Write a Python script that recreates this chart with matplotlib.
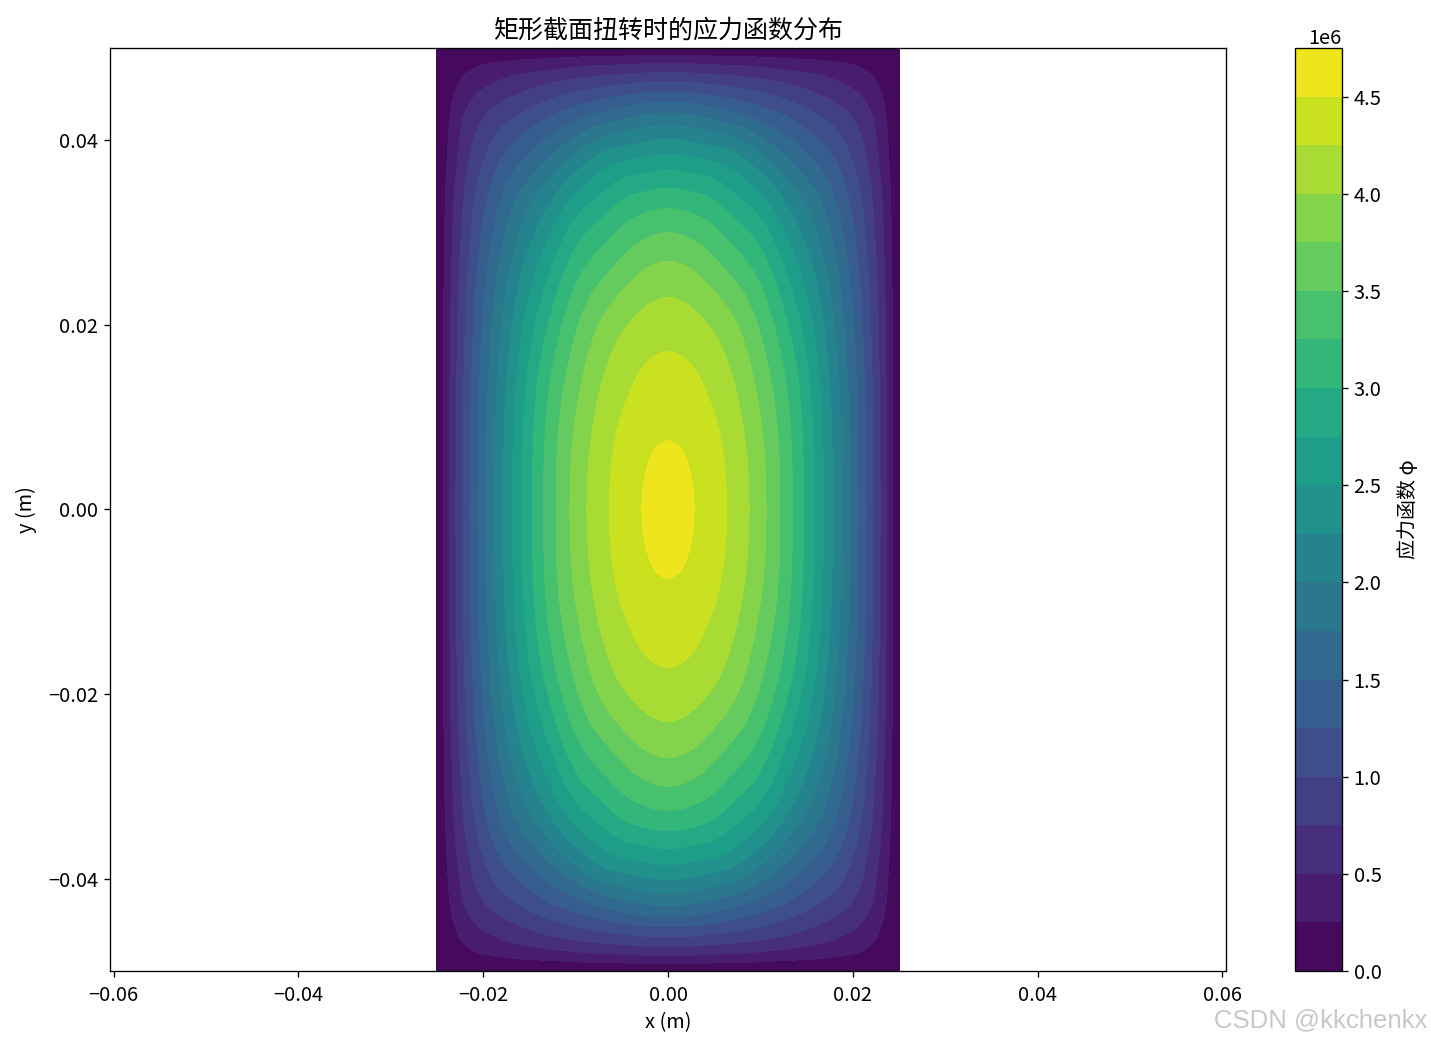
#!/usr/bin/env python3
"""Stress function contour map for a rectangular section under torsion."""

import numpy as np
import matplotlib
matplotlib.use("Agg")
import matplotlib.pyplot as plt
import matplotlib.tri as mtri

plt.rcParams['font.family'] = ['Noto Sans CJK SC', 'DejaVu Sans']
plt.rcParams['font.size'] = 14.4
plt.rcParams['axes.linewidth'] = 0.96
for axis in ('xtick', 'ytick'):
    plt.rcParams[axis + '.major.size'] = 4.2
    plt.rcParams[axis + '.major.width'] = 0.96
    plt.rcParams[axis + '.major.pad'] = 4.2

# one quadrant of the section (mm), mirrored below
x_mm = [0, 2.5, 5, 7.5, 10, 12.5, 15, 17.5, 20, 22, 23.5, 25]
y_mm = [0, 5, 10, 15, 20, 25, 30, 35, 40, 42.5, 45, 47, 48.5, 50]

# stress function, units of 1e6, one row per y_mm
phi_quadrant = [
    [4.72, 4.53, 4.35, 4.14, 3.84, 3.43, 2.93, 2.33, 1.66, 1.07, 0.55, 0],
    [4.57, 4.48, 4.33, 4.12, 3.82, 3.42, 2.92, 2.32, 1.65, 1.06, 0.55, 0],
    [4.45, 4.39, 4.26, 4.05, 3.75, 3.37, 2.88, 2.29, 1.63, 1.05, 0.54, 0],
    [4.32, 4.27, 4.14, 3.93, 3.63, 3.26, 2.79, 2.22, 1.59, 1.02, 0.53, 0],
    [4.14, 4.09, 3.96, 3.75, 3.46, 3.08, 2.63, 2.11, 1.52, 0.98, 0.51, 0],
    [3.88, 3.82, 3.66, 3.46, 3.21, 2.83, 2.42, 1.96, 1.42, 0.92, 0.48, 0],
    [3.50, 3.44, 3.30, 3.10, 2.88, 2.52, 2.16, 1.76, 1.29, 0.84, 0.44, 0],
    [2.98, 2.93, 2.84, 2.65, 2.42, 2.12, 1.82, 1.51, 1.12, 0.74, 0.39, 0],
    [2.27, 2.22, 2.14, 2.02, 1.80, 1.58, 1.36, 1.15, 0.88, 0.60, 0.31, 0],
    [1.83, 1.80, 1.70, 1.58, 1.43, 1.28, 1.11, 0.94, 0.74, 0.52, 0.27, 0],
    [1.30, 1.28, 1.21, 1.13, 1.04, 0.93, 0.81, 0.69, 0.55, 0.38, 0.20, 0],
    [0.83, 0.82, 0.78, 0.74, 0.68, 0.62, 0.55, 0.47, 0.37, 0.26, 0.14, 0],
    [0.45, 0.44, 0.42, 0.40, 0.37, 0.33, 0.30, 0.26, 0.21, 0.14, 0.07, 0],
    [0, 0, 0, 0, 0, 0, 0, 0, 0, 0, 0, 0],
]

levels_1e6 = [0, 0.25, 0.5, 0.75, 1.0, 1.25, 1.5, 1.75, 2.0, 2.25,
              2.5, 2.75, 3.0, 3.25, 3.5, 3.75, 4.0, 4.25, 4.5, 4.75]
xticks = [-0.06, -0.04, -0.02, 0.0, 0.02, 0.04, 0.06]
yticks = [-0.04, -0.02, 0.0, 0.02, 0.04]
cbar_ticks = [0, 0.5e6, 1.0e6, 1.5e6, 2.0e6, 2.5e6, 3.0e6, 3.5e6, 4.0e6, 4.5e6]


def mirrored_triangles(nx, ny):
    """Split grid cells into triangles with diagonals symmetric about the centre."""
    triangles = []
    for j in range(ny - 1):
        for i in range(nx - 1):
            a, b = j * nx + i, j * nx + i + 1
            c, d = (j + 1) * nx + i, (j + 1) * nx + i + 1
            if (i < nx // 2) == (j < ny // 2):
                triangles += [[a, b, d], [a, d, c]]
            else:
                triangles += [[a, b, c], [b, d, c]]
    return triangles


# mirror the quadrant to the whole section
xq = np.array(x_mm) / 1000
yq = np.array(y_mm) / 1000
pq = np.array(phi_quadrant) * 1e6
x = np.concatenate([-xq[:0:-1], xq])
y = np.concatenate([-yq[:0:-1], yq])
phi = np.hstack([pq[:, :0:-1], pq])
phi = np.vstack([phi[:0:-1, :], phi])

levels = np.array(levels_1e6) * 1e6

# let matplotlib round off the contours of the coarse table
xx, yy = np.meshgrid(x, y)
tri = mtri.Triangulation(xx.ravel(), yy.ravel(), mirrored_triangles(len(x), len(y)))
tri_fine, phi_fine = mtri.UniformTriRefiner(tri).refine_field(phi.ravel(), subdiv=3)
phi_fine = np.clip(phi_fine, 0, levels[-1] * 0.999)

W, H = 1431, 1046
fig = plt.figure(figsize=(W / 100, H / 100), dpi=100)
ax = fig.add_axes([110 / W, 1 - 971 / H, (1226 - 110) / W, (971 - 48) / H])
cax = fig.add_axes([1295 / W, 1 - 971 / H, (1342 - 1295) / W, (971 - 48) / H])

cf = ax.tricontourf(tri_fine, phi_fine, levels=levels, cmap='viridis')
ax.set_xlim(-0.06038, 0.06038)
ax.set_ylim(-0.05, 0.05)
ax.set_xticks(xticks)
ax.set_yticks(yticks)
ax.tick_params(axis='x', pad=6)
ax.set_xlabel('x (m)', labelpad=4.5)
ax.set_ylabel('y (m)', labelpad=8.4)
ax.set_title('矩形截面扭转时的应力函数分布', fontsize=18, pad=7.5)

cbar = fig.colorbar(cf, cax=cax)
cbar.set_ticks(cbar_ticks)
cbar.set_label('应力函数 φ', labelpad=12)

fig.text(1427 / W, 1 - 1020 / H, 'CSDN @kkchenkx', ha='right', va='center',
         fontsize=18.5, color='#c8c8c8', family='Liberation Sans')

fig.savefig('out.png', dpi=100)
